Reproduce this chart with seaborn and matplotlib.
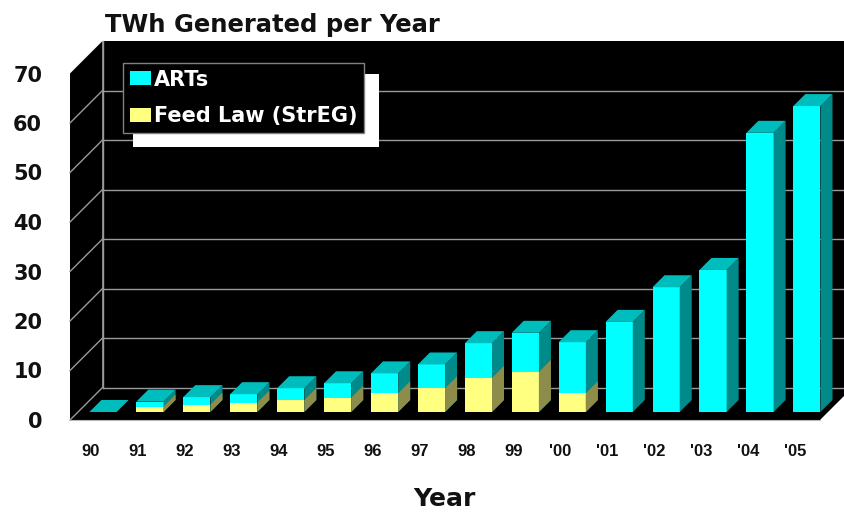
import numpy as np
import pandas as pd
import matplotlib
matplotlib.use("Agg")
import matplotlib.pyplot as plt
import seaborn as sns
from matplotlib.patches import Polygon, Patch, Rectangle
from matplotlib.lines import Line2D
from matplotlib.transforms import IdentityTransform

# ---- data (TWh per year) ----
years = ['90', '91', '92', '93', '94', '95', '96', '97', '98', '99',
         "'00", "'01", "'02", "'03", "'04", "'05"]
arts = [0.0, 1.0, 1.5, 1.7, 2.4, 2.9, 4.0, 4.8, 7.0, 7.9,
        10.3, 18.2, 25.2, 28.7, 56.4, 61.8]
feed = [0.0, 1.1, 1.5, 1.9, 2.4, 2.9, 3.8, 4.8, 6.9, 8.1,
        3.8, 0.0, 0.0, 0.0, 0.0, 0.0]
y_ticks = [0, 10, 20, 30, 40, 50, 60, 70]
series_names = ['ARTs', 'Feed Law (StrEG)']
title = 'TWh Generated per Year'
x_title = 'Year'

# ---- colours ----
CYAN, CYAN_SIDE, CYAN_TOP = '#00FFFF', '#008A8A', '#00BDBD'
YELLOW, YELLOW_SIDE = '#FFFF80', '#8E8C4A'
GRID = '#9A9A9A'

W, H = 844, 512
fig = plt.figure(figsize=(W / 100, H / 100), dpi=100, facecolor='white')

# plane of the bar fronts
ax = fig.add_axes([78 / W, 1 - 412 / H, 750 / W, 346.5 / H])
ax.set_zorder(1)

df = pd.DataFrame({'year': years, 'total': np.add(arts, feed), 'feed': feed})
sns.barplot(data=df, x='year', y='total', order=years, color=CYAN, saturation=1,
            width=0.58, errorbar=None, edgecolor='none', linewidth=0, ax=ax, zorder=3)
sns.barplot(data=df, x='year', y='feed', order=years, color=YELLOW, saturation=1,
            width=0.58, errorbar=None, edgecolor='none', linewidth=0, ax=ax, zorder=3)

XMIN, XMAX = -0.533, 15.45
ax.set_xlim(XMIN, XMAX)
ax.set_ylim(0, 70)
ax.axis('off')

D_FRONT, D_BACK, D_BAR = -8.0, 24.5, 12.0


def P(x, y, d):
    """Project a point of the bar plane back by d pixels (oblique, 45 degrees)."""
    X, Y = ax.transData.transform((x, y))
    return (X + d, Y + d)


def poly(pts, color, z, **kw):
    ax.add_patch(Polygon(pts, closed=True, facecolor=color, edgecolor='none',
                         transform=IdentityTransform(), clip_on=False, zorder=z, **kw))


def seg(p0, p1, color=GRID, lw=1.0, z=1.5):
    ax.add_line(Line2D([p0[0], p1[0]], [p0[1], p1[1]], color=color, lw=lw,
                       transform=IdentityTransform(), clip_on=False, zorder=z))


# walls and floor
poly([P(XMIN, 0, D_BACK), P(17, 0, D_BACK), P(17, 70, D_BACK), P(XMIN, 70, D_BACK)], 'black', 0.5)
poly([P(XMIN, 0, D_FRONT), P(XMIN, 0, D_BACK), P(XMIN, 70, D_BACK), P(XMIN, 70, D_FRONT)], 'black', 0.6)
poly([P(XMIN, 0, D_FRONT), P(XMAX, 0, D_FRONT), P(XMAX, 0, D_BACK), P(XMIN, 0, D_BACK)], 'black', 0.7)

for v in y_ticks[:-1]:
    seg(P(XMIN, v, D_BACK), P(17, v, D_BACK))
    seg(P(XMIN, v, D_FRONT), P(XMIN, v, D_BACK))
seg(P(XMIN, 0, D_BACK), P(XMIN, 70, D_BACK))
seg(P(XMIN, 0, D_FRONT), P(XMAX, 0, D_FRONT), color='#B8B8B8', lw=0.8, z=0.8)

# depth faces of the bars
for container, side_col, with_top in ((ax.containers[0], CYAN_SIDE, True),
                                      (ax.containers[1], YELLOW_SIDE, False)):
    for bar in container:
        x0 = bar.get_x()
        x1 = x0 + bar.get_width()
        h = bar.get_height()
        if h > 0:
            poly([P(x1, 0, 0), P(x1, 0, D_BAR), P(x1, h, D_BAR), P(x1, h, 0)], side_col, 3)
        if with_top:
            poly([P(x0, h, 0), P(x1, h, 0), P(x1, h, D_BAR), P(x0, h, D_BAR)], CYAN_TOP, 3)

# front plane carrying the tick labels
axf = fig.add_axes([70 / W, 1 - 420 / H, 750 / W, 346.5 / H])
axf.set_zorder(0)
axf.patch.set_visible(False)
for s in axf.spines.values():
    s.set_visible(False)
axf.set_xlim(XMIN, XMAX)
axf.set_ylim(0, 70)
axf.set_xticks(np.arange(len(years)) - 0.085, years)
axf.set_yticks(y_ticks, [str(v) for v in y_ticks])
axf.tick_params(axis='both', length=0)
axf.tick_params(axis='y', pad=20)
axf.tick_params(axis='x', pad=17)
for lab in axf.get_yticklabels():
    lab.set_fontfamily('DejaVu Sans')
    lab.set_fontweight('bold')
    lab.set_fontsize(15)
    lab.set_color('#111111')
for lab in axf.get_xticklabels():
    lab.set_fontfamily(['Liberation Sans', 'DejaVu Sans'])
    lab.set_fontweight('bold')
    lab.set_fontsize(12)
    lab.set_color('#111111')

fig.text(105 / W, 1 - 32 / H, title, fontsize=17.5, fontweight='bold',
         ha='left', va='baseline', color='#111111')
fig.text(444 / W, 1 - 506 / H, x_title, fontsize=18, fontweight='bold',
         ha='center', va='baseline', color='#111111')

handles = [Patch(facecolor=CYAN, edgecolor='none', label=series_names[0]),
           Patch(facecolor=YELLOW, edgecolor='none', label=series_names[1])]
leg = fig.legend(handles=handles, loc='upper left', bbox_to_anchor=(123 / W, 1 - 63 / H),
                 frameon=True, fancybox=False, facecolor='black', edgecolor='#808080',
                 framealpha=1, prop={'weight': 'bold', 'size': 15}, labelcolor='white',
                 handlelength=1.0, handleheight=0.66, handletextpad=0.15, borderpad=0.32,
                 labelspacing=0.78, borderaxespad=0)
leg.set_zorder(6)
leg.get_frame().set_linewidth(1.0)

fig.canvas.draw()
bb = leg.get_frame().get_window_extent()
fig.add_artist(Rectangle((bb.x0 + 10, bb.y0 - 14), bb.width + 5, bb.height + 3,
                         transform=IdentityTransform(), facecolor='white',
                         edgecolor='none', zorder=5))

fig.savefig('out.png', dpi=100, facecolor='white')
